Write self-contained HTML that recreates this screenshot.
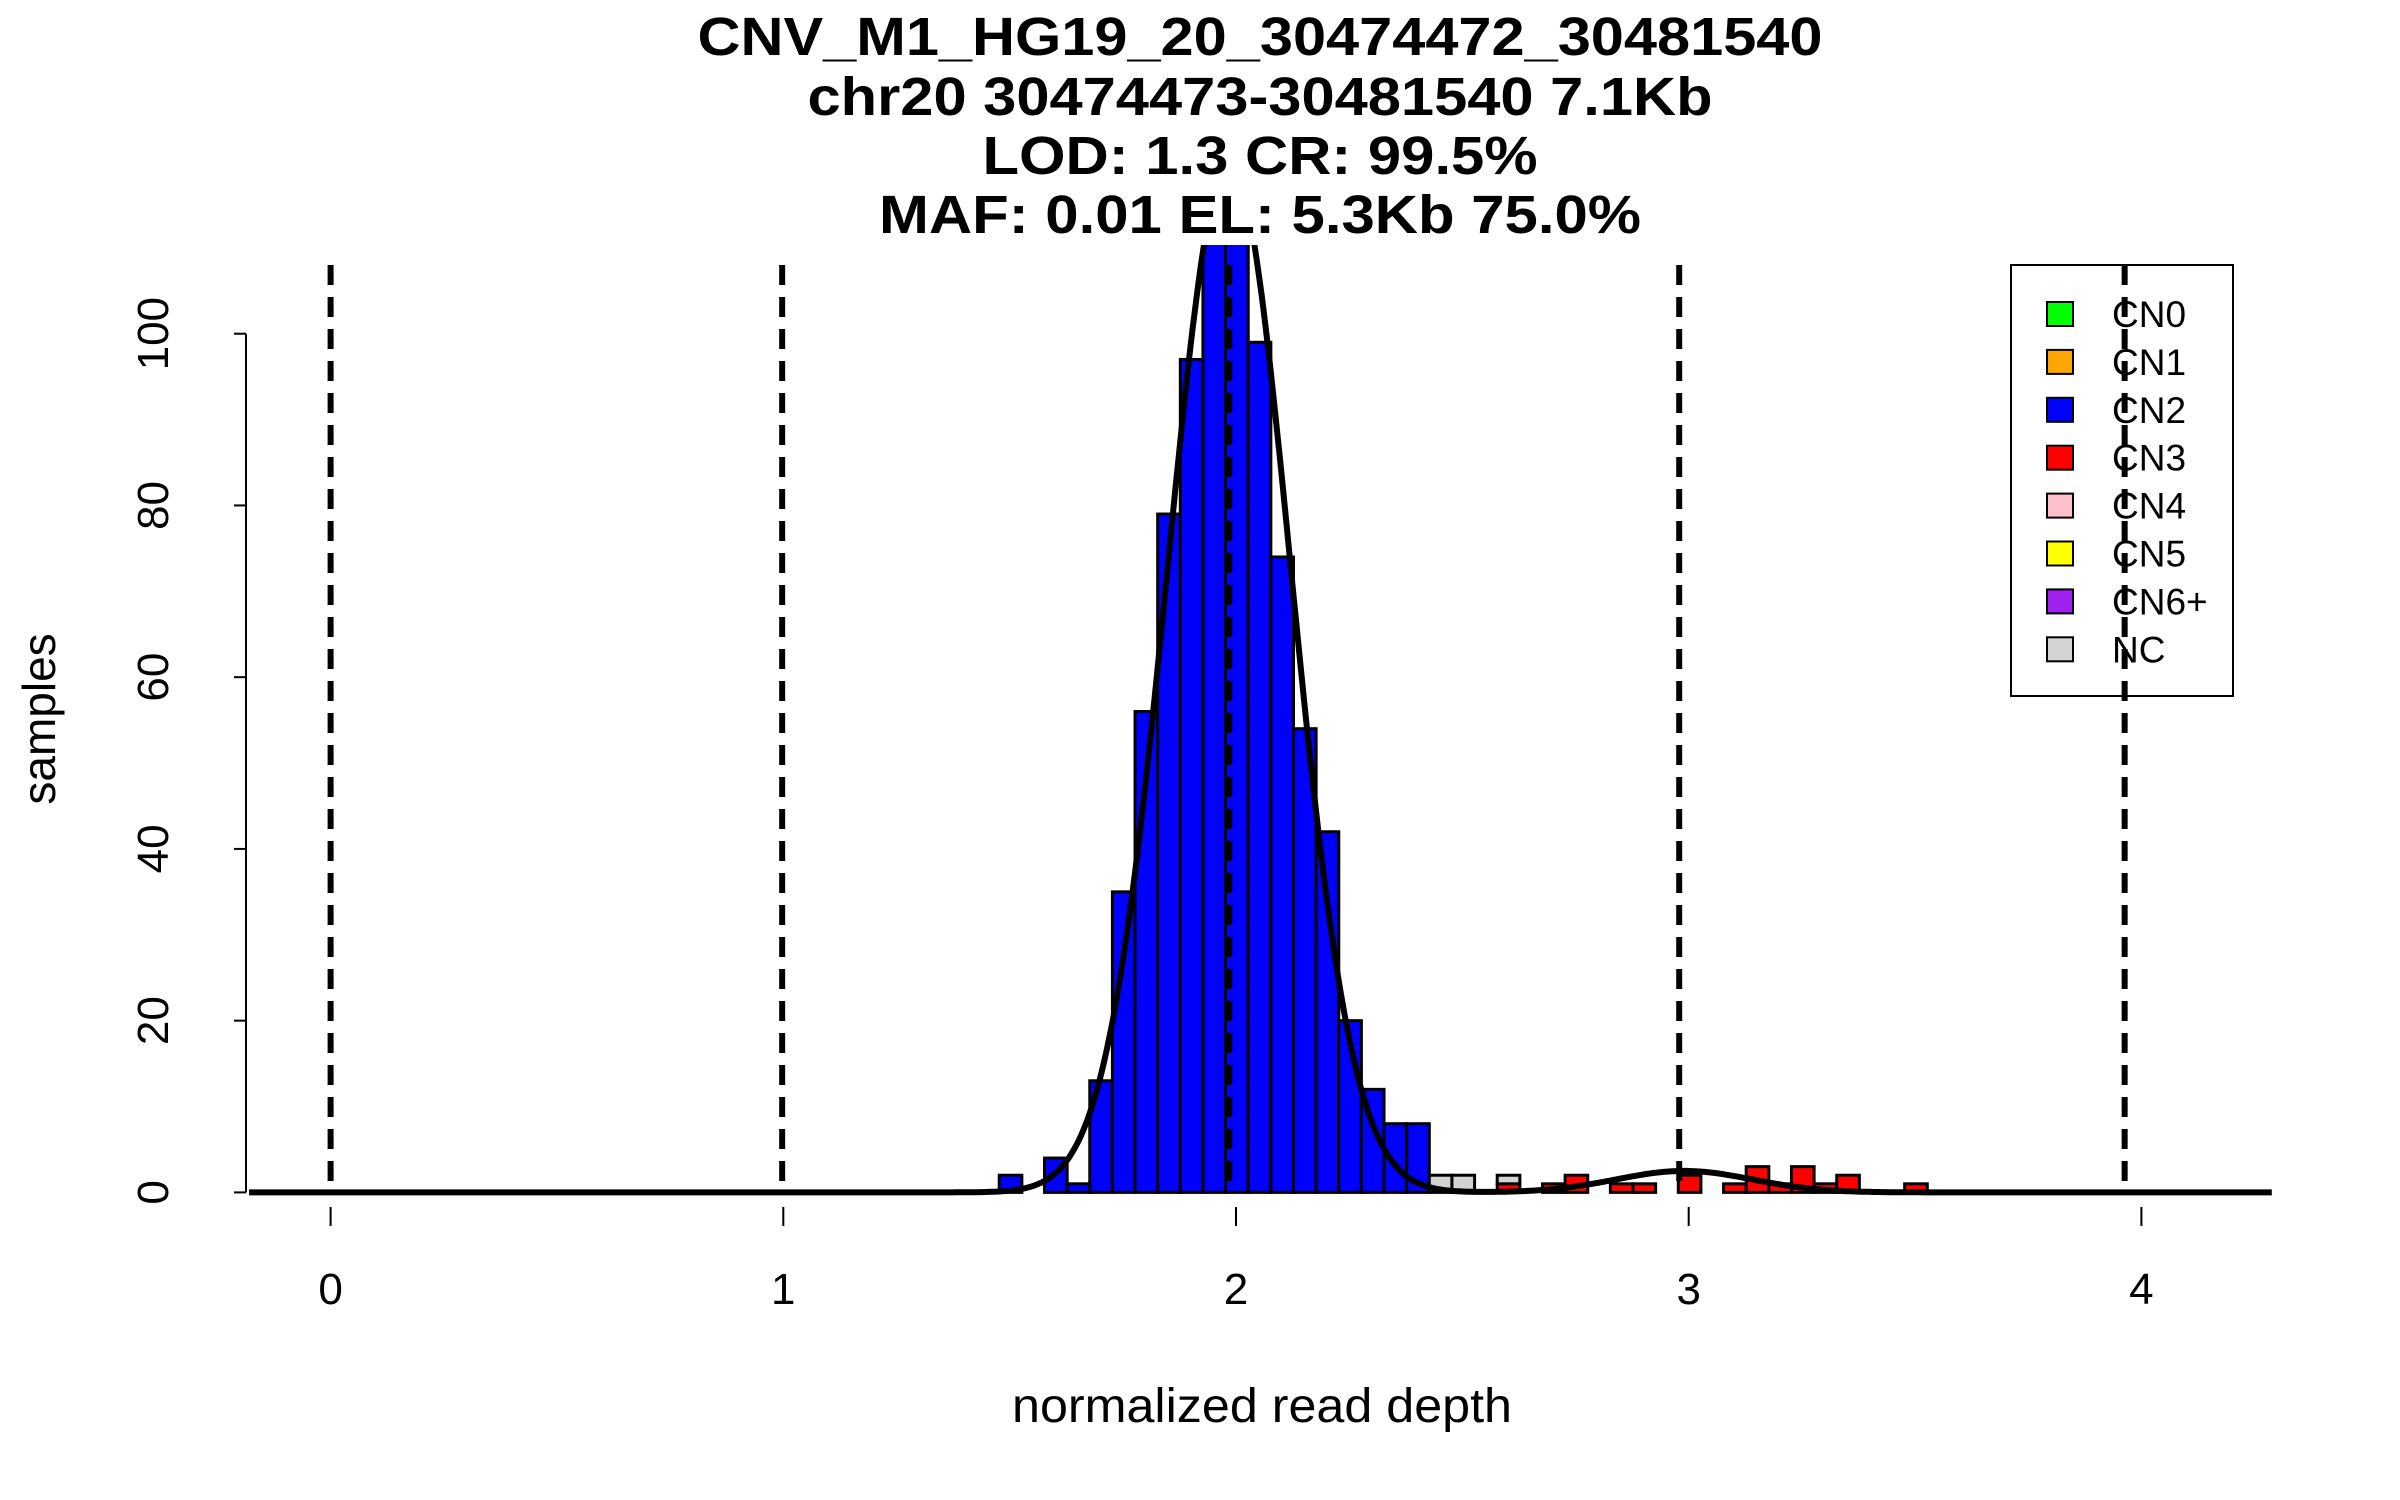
<!DOCTYPE html>
<html><head><meta charset="utf-8">
<style>
html,body{margin:0;padding:0;background:#fff;}
svg{display:block;font-family:"Liberation Sans",sans-serif;}
</style></head>
<body>
<svg id="chart" xmlns="http://www.w3.org/2000/svg" width="2400" height="1500" viewBox="0 0 2400 1500">
<rect x="0" y="0" width="2400" height="1500" fill="#fff"/>
<g font-weight="bold" font-size="54" text-anchor="middle" fill="#000">
<text x="1260" y="55" textLength="1125" lengthAdjust="spacingAndGlyphs">CNV_M1_HG19_20_30474472_30481540</text>
<text x="1260" y="115" textLength="905" lengthAdjust="spacingAndGlyphs">chr20 30474473-30481540 7.1Kb</text>
<text x="1260" y="174" textLength="555" lengthAdjust="spacingAndGlyphs">LOD: 1.3 CR: 99.5%</text>
<text x="1260" y="233" textLength="762" lengthAdjust="spacingAndGlyphs">MAF: 0.01 EL: 5.3Kb 75.0%</text>
</g>
<defs><clipPath id="plotclip"><rect x="240" y="245" width="2070" height="1000"/></clipPath></defs>
<g id="bars" clip-path="url(#plotclip)"></g>
<g id="curve" clip-path="url(#plotclip)"></g>
<g id="axes"></g>
<g id="legend"></g>
<g id="dashes"></g>
<text x="1262" y="1422" font-size="48" text-anchor="middle" textLength="500" lengthAdjust="spacingAndGlyphs">normalized read depth</text>
<text x="0" y="0" font-size="46" text-anchor="middle" transform="translate(55,719) rotate(-90)">samples</text>
</svg>
<script>
// ---- data ----
const binStart = 1.477;
const binWidth = 0.05;
const blueCounts = [2,0,4,1,13,35,56,79,97,118,116,99,74,54,42,20,12,8,8];
const greyCounts = [2,2,0,1,0,0,0,0,0,0,0,0,0,0,0,0,0,0,0,0,0,0];
const redCounts  = [0,0,0,1,0,1,2,0,1,1,0,2,0,1,3,1,3,1,2,0,0,1];
const xTicks = [0,1,2,3,4];
const yTicks = [0,20,40,60,80,100];
const cnLines = [0,0.9975,1.985,2.979,3.963];
const legendLabels = ["CN0","CN1","CN2","CN3","CN4","CN5","CN6+","NC"];
const legendColors = ["#00ff00","#ffa500","#0000ff","#ff0000","#ffc0cb","#ffff00","#a020f0","#d3d3d3"];
const cn2Fit = [1.985, 0.136, 120];
const cn3Fit = [2.99, 0.15, 2.5];

// ---- scales ----
const NS = "http://www.w3.org/2000/svg";
function X(v){ return 330.6 + 452.7*v; }
function Y(c){ return 1192.4 - 8.587*c; }
function mk(tag, attrs, parent){ const e=document.createElementNS(NS,tag); for(const k in attrs) e.setAttribute(k,attrs[k]); parent.appendChild(e); return e; }

const gBars=document.getElementById('bars');
blueCounts.forEach((c,i)=>{
  const x0=X(binStart+i*binWidth), x1=X(binStart+(i+1)*binWidth);
  const r=mk('rect',{x:x0,y:Y(c),width:x1-x0,height:Y(0)-Y(c),fill:'#0000ff',stroke:'#000','stroke-width':3},gBars);
  
  
});
const off = blueCounts.length;
redCounts.forEach((c,i)=>{
  const g=greyCounts[i];
  const x0=X(binStart+(off+i)*binWidth), x1=X(binStart+(off+i+1)*binWidth);
  if(c>0){
    const r=mk('rect',{x:x0,y:Y(c),width:x1-x0,height:Y(0)-Y(c),fill:'#ff0000',stroke:'#000','stroke-width':3},gBars);
    
    
  }
  if(g>0){
    const r=mk('rect',{x:x0,y:Y(c+g),width:x1-x0,height:Y(c)-Y(c+g),fill:'#d3d3d3',stroke:'#000','stroke-width':3},gBars);
    
    
  }
});

// density curve
const gC=document.getElementById('curve');
let d='';
for(let v=-0.18; v<=4.29; v+=0.004){
  const a=cn2Fit[2]*Math.exp(-Math.pow(v-cn2Fit[0],2)/(2*cn2Fit[1]*cn2Fit[1]));
  const b=cn3Fit[2]*Math.exp(-Math.pow(v-cn3Fit[0],2)/(2*cn3Fit[1]*cn3Fit[1]));
  d+=(d?'L':'M')+X(v).toFixed(1)+','+Y(a+b).toFixed(1);
}
const pc=mk('path',{d:d,fill:'none',stroke:'#000','stroke-width':6},gC);



// axes
const gA=document.getElementById('axes');
const ya=mk('line',{x1:246,y1:Y(0),x2:246,y2:Y(100),stroke:'#000','stroke-width':2},gA);


yTicks.forEach(t=>{
  const l=mk('line',{x1:234,y1:Y(t),x2:246,y2:Y(t),stroke:'#000','stroke-width':2},gA);
  
  
  const tx=mk('text',{x:0,y:0,'font-size':44,'text-anchor':'middle',transform:`translate(168,${Y(t)}) rotate(-90)`},gA);
  tx.textContent=t;
  
  
});
xTicks.forEach(t=>{
  const l=mk('line',{x1:X(t),y1:1207,x2:X(t),y2:1226,stroke:'#000','stroke-width':2},gA);
  
  
  const tx=mk('text',{x:X(t),y:1304,'font-size':44,'text-anchor':'middle'},gA);
  tx.textContent=t;
  
  
});

// legend
const gL=document.getElementById('legend');
const lb=mk('rect',{x:2011,y:265,width:222,height:431,fill:'#fff',stroke:'#000','stroke-width':2},gL);


legendLabels.forEach((lab,i)=>{
  const cy=314+47.9*i;
  const s=mk('rect',{x:2047,y:cy-12,width:26,height:24,fill:legendColors[i],stroke:'#000','stroke-width':2},gL);
  
  
  const t=mk('text',{x:2112,y:cy+13,'font-size':37},gL);
  t.textContent=lab;
  
  
});

// dashed copy-number lines
const gD=document.getElementById('dashes');
cnLines.forEach(v=>{
  const l=mk('line',{x1:X(v),y1:265,x2:X(v),y2:1193,stroke:'#000','stroke-width':6,'stroke-dasharray':'20,12'},gD);
  
  
});
</script>
</body></html>
